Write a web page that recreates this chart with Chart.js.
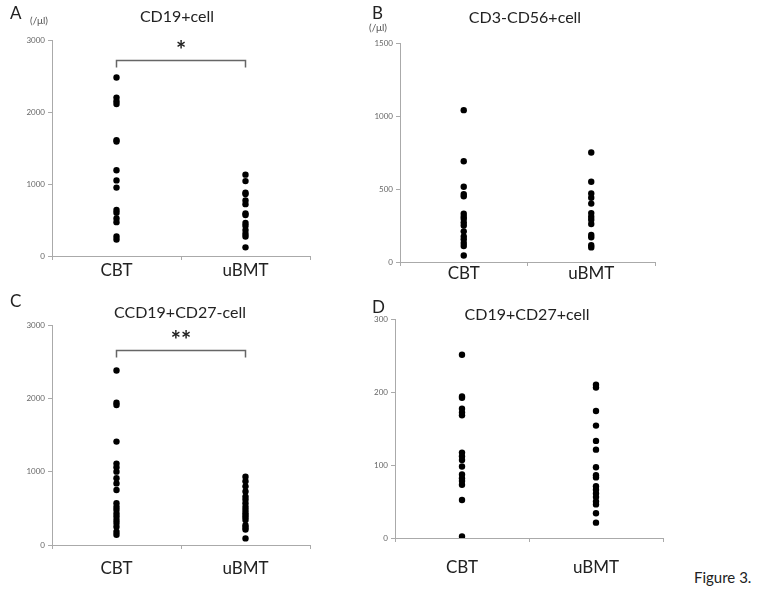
<!DOCTYPE html>
<html>
<head>
<meta charset="utf-8">
<script src="https://cdn.jsdelivr.net/npm/chart.js@4"></script>
<style>
  body { margin: 0; background: #fff; font-family: Lato, "Open Sans", sans-serif; }
  #wrap { position: relative; width: 760px; height: 598px; overflow: hidden; }
  canvas { position: absolute; }
  .lbl { position: absolute; color: #222; white-space: nowrap; }
</style>
</head>
<body>
<div id="wrap">
  <canvas id="a"></canvas>
  <canvas id="b"></canvas>
  <canvas id="c"></canvas>
  <canvas id="d"></canvas>
  <div class="lbl" style="left:10px;top:2px;font-size:17px">A</div>
  <div class="lbl" style="left:30px;top:14px;font-size:10px;color:#555">(/μl)</div>
  <div class="lbl" style="left:372px;top:2px;font-size:17px">B</div>
  <div class="lbl" style="left:369px;top:21px;font-size:10px;color:#555">(/μl)</div>
  <div class="lbl" style="left:10px;top:290px;font-size:17px">C</div>
  <div class="lbl" style="left:372px;top:296px;font-size:17px">D</div>
  <div class="lbl" style="left:694px;top:568px;font-size:15px">Figure 3.</div>
</div>
<script>
const categories = ['CBT', 'uBMT'];

// A: CD19+ cells (/ul)
const cd19CBT = [2480, 2200, 2150, 2110, 1610, 1590, 1190, 1050, 950, 640, 600, 520, 470, 270, 230];
const cd19BMT = [1130, 1040, 880, 860, 770, 720, 590, 570, 460, 420, 360, 310, 270, 120];

// B: CD3-CD56+ cells
const nkCBT = [1040, 690, 515, 465, 450, 330, 310, 295, 270, 250, 210, 175, 155, 130, 110, 45];
const nkBMT = [750, 550, 470, 440, 400, 335, 310, 290, 260, 185, 170, 115, 100];

// C: CD19+CD27- cells
const naiveCBT = [2380, 1940, 1910, 1410, 1110, 1060, 1000, 910, 840, 750, 570, 520, 480, 430, 390, 340, 300, 250, 180, 140];
const naiveBMT = [930, 870, 800, 730, 660, 620, 570, 520, 480, 440, 410, 380, 340, 270, 240, 210, 90];

// D: CD19+CD27+ cells
const memCBT = [251, 194, 192, 177, 172, 168, 117, 112, 107, 98, 87, 82, 78, 73, 52, 2];
const memBMT = [210, 206, 174, 154, 133, 121, 97, 86, 83, 71, 66, 61, 56, 50, 46, 34, 21];

const FONT = 'Lato, "Open Sans", sans-serif';

// draws title, significance bracket and stars
const extras = {
  id: 'extras',
  afterDraw(chart, args, opts) {
    const ctx = chart.ctx;
    const x = chart.scales.x, y = chart.scales.y;
    ctx.save();
    ctx.fillStyle = '#222';
    ctx.textAlign = 'center';
    ctx.textBaseline = 'middle';
    ctx.font = '16px ' + FONT;
    ctx.fillText(opts.title, opts.titleX, opts.titleY);
    if (opts.bracket != null) {
      const x1 = x.getPixelForValue(0), x2 = x.getPixelForValue(1);
      const by = Math.round(y.getPixelForValue(opts.bracket)) + 0.5;
      ctx.strokeStyle = '#666';
      ctx.lineWidth = 1.5;
      ctx.beginPath();
      ctx.moveTo(x1, by + 7);
      ctx.lineTo(x1, by);
      ctx.lineTo(x2, by);
      ctx.lineTo(x2, by + 7);
      ctx.stroke();
      ctx.font = 'bold 24px ' + FONT;
      ctx.fillText(opts.stars, (x1 + x2) / 2, by - 9);
    }
    ctx.restore();
  }
};

function panel(id, p) {
  const el = document.getElementById(id);
  const w = p.right - p.axisX + 60, h = p.bottom - p.top + 80;
  el.style.left = (p.axisX - 40) + 'px';
  el.style.top = (p.top - 40) + 'px';
  el.width = w; el.height = h;
  el.style.width = w + 'px'; el.style.height = h + 'px';
  const dot = { pointRadius: 3.2, pointBackgroundColor: '#000', pointBorderWidth: 0 };
  new Chart(el, {
    type: 'scatter',
    data: {
      datasets: [
        { data: p.cbt.map(v => ({ x: 'CBT', y: v })), ...dot },
        { data: p.bmt.map(v => ({ x: 'uBMT', y: v })), ...dot }
      ]
    },
    options: {
      responsive: false,
      animation: false,
      events: [],
      layout: { padding: { left: 10, top: 40, right: 20, bottom: 0 } },
      plugins: {
        legend: { display: false },
        tooltip: { enabled: false },
        extras: {
          title: p.title, titleX: p.titleX - (p.axisX - 40), titleY: p.titleY - (p.top - 40),
          bracket: p.bracket, stars: p.stars
        }
      },
      scales: {
        x: {
          type: 'category',
          labels: categories,
          offset: true,
          afterFit: s => { s.height = 40; },
          grid: { offset: true, drawOnChartArea: false, tickLength: 4, color: '#aaa' },
          border: { color: '#aaa' },
          ticks: { color: '#222', font: { family: FONT, size: 17 }, padding: p.labelPad }
        },
        y: {
          min: 0,
          max: p.max,
          afterFit: s => { s.width = 30; },
          grid: { drawOnChartArea: false, tickLength: 4, color: '#aaa' },
          border: { color: '#aaa' },
          ticks: { stepSize: p.step, color: '#666', font: { family: FONT, size: 8 }, padding: 3,
            callback: v => String(v) }
        }
      }
    },
    plugins: [extras]
  });
}

panel('a', { cbt: cd19CBT, bmt: cd19BMT, max: 3000, step: 1000, axisX: 52, top: 40, bottom: 256, right: 310,
  title: 'CD19+cell', titleX: 177, titleY: 17, bracket: 2720, stars: '*', labelPad: 0 });
panel('b', { cbt: nkCBT, bmt: nkBMT, max: 1500, step: 500, axisX: 400, top: 43, bottom: 262, right: 655,
  title: 'CD3-CD56+cell', titleX: 525, titleY: 18, labelPad: -3 });
panel('c', { cbt: naiveCBT, bmt: naiveBMT, max: 3000, step: 1000, axisX: 52, top: 325, bottom: 545, right: 310,
  title: 'CCD19+CD27-cell', titleX: 180, titleY: 313, bracket: 2660, stars: '**', labelPad: 9 });
panel('d', { cbt: memCBT, bmt: memBMT, max: 300, step: 100, axisX: 395, top: 319, bottom: 538, right: 663,
  title: 'CD19+CD27+cell', titleX: 527, titleY: 315, labelPad: 15 });
</script>
</body>
</html>
